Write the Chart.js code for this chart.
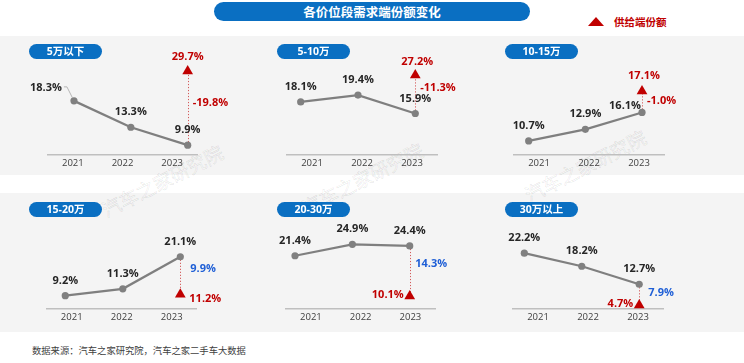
<!DOCTYPE html>
<html>
<head>
<meta charset="utf-8">
<script src="https://cdn.jsdelivr.net/npm/chart.js@4.4.1/dist/chart.umd.min.js"></script>
<style>
html,body{margin:0;padding:0;background:#fff;}
body{width:744px;height:363px;position:relative;overflow:hidden;font-family:"Open Sans","Noto Sans CJK SC",sans-serif;}
.bg{position:absolute;left:0;width:744px;background:#f4f4f4;z-index:0;}
.wm{position:absolute;z-index:1;white-space:nowrap;font:19px "Noto Sans CJK SC",sans-serif;color:rgba(0,0,0,0.02);-webkit-text-stroke:0.6px rgba(0,0,0,0.1);transform:translate(-50%,-50%) rotate(-27deg);}
canvas{position:absolute;z-index:2;}
.title{position:absolute;left:214px;top:2px;width:316px;height:19px;border-radius:10px;background:#0a6fc2;color:#fff;font:bold 12.5px "Noto Sans CJK SC",sans-serif;text-align:center;line-height:19px;z-index:3;}
.pill{position:absolute;width:73px;height:15px;border-radius:8px;background:#0a6fc2;color:#fff;font-weight:bold;font-size:10.5px;font-family:"Open Sans","Noto Sans CJK SC",sans-serif;text-align:center;line-height:15px;z-index:3;}
.legtri{position:absolute;left:588px;top:17px;width:0;height:0;border-left:8.5px solid transparent;border-right:8.5px solid transparent;border-bottom:9.5px solid #c00000;z-index:3;}
.legtxt{position:absolute;left:614px;top:14px;height:16px;line-height:16px;font:bold 10.5px "Noto Sans CJK SC",sans-serif;color:#c00000;z-index:3;}
.src{position:absolute;left:32px;top:343px;height:16px;line-height:16px;font:9.3px "Noto Sans CJK SC",sans-serif;color:#404040;z-index:3;}
</style>
</head>
<body>
<div class="bg" style="top:36px;height:139px;"></div>
<div class="bg" style="top:193px;height:139px;"></div>
<div class="wm" style="left:162px;top:180px;">汽车之家研究院</div>
<div class="wm" style="left:362px;top:178px;">汽车之家研究院</div>
<div class="wm" style="left:585px;top:165px;">汽车之家研究院</div>
<div class="title">各价位段需求端份额变化</div>
<div class="legtri"></div>
<div class="legtxt">供给端份额</div>
<div class="src">数据来源：汽车之家研究院，汽车之家二手车大数据</div>
<div id="root"></div>
<script>
// ---- data ----
const years = ['2021', '2022', '2023'];
const segments = ['5万以下', '5-10万', '10-15万', '15-20万', '20-30万', '30万以上'];
const demandBelow5 = [18.3, 13.3, 9.9];
const demand5to10 = [18.1, 19.4, 15.9];
const demand10to15 = [10.7, 12.9, 16.1];
const demand15to20 = [9.2, 11.3, 21.1];
const demand20to30 = [21.4, 24.9, 24.4];
const demandAbove30 = [22.2, 18.2, 12.7];
const supply2023 = [29.7, 27.2, 17.1, 11.2, 10.1, 4.7];
const gap2023 = [-19.8, -11.3, -1.0, 9.9, 14.3, 7.9];
const demandSeries = [demandBelow5, demand5to10, demand10to15, demand15to20, demand20to30, demandAbove30];

// ---- layout / style (positions only) ----
const DEF = {dx: 0, dy: -15};
const panels = [
  {left:0,   top:40,  w:248, h:131, padL:48,   padR:51,   x2:[-0.457,2.164], y:[8.03,29.85], y2:[-23.1,49.36], pill:[29,44],
   dem:[{dx:-28,dy:-13,leader:true},DEF,DEF], sup:{align:'center',dx:0,dy:-14.5}, gap:{dx:5,dy:-5}},
  {left:248, top:40,  w:248, h:131, padL:39,   padR:59,   x2:[-0.239,2.379], y:[8.03,29.85], y2:[-23.1,49.36], pill:[277,44],
   dem:[DEF,DEF,DEF], sup:{align:'center',dx:2,dy:-13}, gap:{dx:5,dy:-6}},
  {left:496, top:40,  w:248, h:131, padL:18,   padR:80,   x2:[-0.259,2.388], y:[8.03,29.85], y2:[-23.1,49.36], pill:[505,44],
   dem:[DEF,DEF,{dx:-17,dy:-7}], sup:{align:'center',dx:2,dy:-15}, gap:{dx:5,dy:-1}},
  {left:0,   top:200, w:248, h:125, padL:46.7, padR:51.3, x2:[-0.323,2.285], y:[5.14,38.43], y2:[2.40,68.1], pill:[29,202],
   dem:[DEF,DEF,DEF], sup:{align:'left',dx:9,dy:4}, gap:{dx:10,dy:-7}},
  {left:248, top:200, w:248, h:125, padL:38,   padR:60.7, x2:[-0.157,2.446], y:[5.14,38.43], y2:[2.40,68.1], pill:[277,202],
   dem:[DEF,DEF,DEF], sup:{align:'right',dx:-6,dy:-1.5}, gap:{dx:5.5,dy:-7.6}},
  {left:496, top:200, w:248, h:125, padL:17,   padR:81,   x2:[-0.197,2.414], y:[5.14,38.43], y2:[2.40,68.1], pill:[505,202],
   dem:[DEF,DEF,DEF], sup:{align:'right',dx:-6,dy:-1}, gap:{dx:9,dy:-1.6}}
];

const RED = '#c00000', BLUE = '#1f5fd6', TXT = '#262626';
const fmt = v => v.toFixed(1) + '%';

function makeLabelPlugin(p, i) {
  return {
    id: 'panelLabels' + i,
    beforeDatasetsDraw(chart) {
      const ctx = chart.ctx;
      const pt = chart.getDatasetMeta(0).data[2];
      const tri = chart.getDatasetMeta(1).data[0];
      ctx.save();
      ctx.strokeStyle = 'rgba(200,40,40,0.75)';
      ctx.lineWidth = 1;
      ctx.setLineDash([1.2, 1.8]);
      ctx.beginPath();
      ctx.moveTo(Math.round(pt.x) + 0.5, pt.y);
      ctx.lineTo(Math.round(pt.x) + 0.5, tri.y);
      ctx.stroke();
      ctx.restore();
    },
    afterDatasetsDraw(chart) {
      const ctx = chart.ctx;
      const pts = chart.getDatasetMeta(0).data;
      const tri = chart.getDatasetMeta(1).data[0];
      ctx.save();
      ctx.textBaseline = 'middle';
      ctx.font = 'bold 11px "Open Sans", "Noto Sans CJK SC", sans-serif';
      pts.forEach((el, k) => {
        const o = p.dem[k];
        const tx = el.x + o.dx, ty = el.y + o.dy;
        const text = fmt(demandSeries[i][k]);
        ctx.fillStyle = TXT;
        ctx.textAlign = 'center';
        ctx.fillText(text, tx, ty);
        if (o.leader) {
          const w = ctx.measureText(text).width;
          ctx.strokeStyle = '#a6a6a6';
          ctx.lineWidth = 0.8;
          ctx.beginPath();
          ctx.moveTo(tx + w / 2 + 2, ty - 1);
          ctx.lineTo(tx + w / 2 + 5, ty - 1);
          ctx.lineTo(el.x - 1.5, el.y - 3);
          ctx.stroke();
        }
      });
      ctx.fillStyle = RED;
      ctx.textAlign = p.sup.align;
      ctx.fillText(fmt(supply2023[i]), tri.x + p.sup.dx, tri.y + p.sup.dy);
      const g = gap2023[i];
      const pt = pts[2];
      ctx.fillStyle = g < 0 ? RED : BLUE;
      ctx.textAlign = 'left';
      ctx.fillText(fmt(g), pt.x + p.gap.dx, (pt.y + tri.y) / 2 + p.gap.dy);
      ctx.restore();
    }
  };
}

const root = document.getElementById('root');
panels.forEach((p, i) => {
  const pill = document.createElement('div');
  pill.className = 'pill';
  pill.style.left = p.pill[0] + 'px';
  pill.style.top = p.pill[1] + 'px';
  pill.textContent = segments[i];
  document.body.appendChild(pill);

  const cv = document.createElement('canvas');
  cv.width = p.w; cv.height = p.h;
  cv.style.left = p.left + 'px'; cv.style.top = p.top + 'px';
  cv.style.width = p.w + 'px'; cv.style.height = p.h + 'px';
  root.appendChild(cv);

  new Chart(cv, {
    type: 'line',
    data: {
      labels: years,
      datasets: [
        {
          data: demandSeries[i].map((v, k) => ({x: k, y: v})),
          xAxisID: 'x2', yAxisID: 'y',
          borderColor: '#7f7f7f', borderWidth: 2.25, tension: 0,
          pointRadius: 3.6, pointBackgroundColor: '#808080', pointBorderWidth: 0,
          clip: false
        },
        {
          data: [{x: years.length - 1, y: supply2023[i]}],
          xAxisID: 'x2', yAxisID: 'y2',
          showLine: false, pointStyle: 'triangle', pointRadius: 6.2,
          pointBackgroundColor: RED, pointBorderWidth: 0, borderColor: RED,
          clip: false
        }
      ]
    },
    options: {
      responsive: false, animation: false, devicePixelRatio: 1, events: [],
      layout: {autoPadding: false, padding: {left: p.padL, right: p.padR, top: 0, bottom: 0}},
      plugins: {legend: {display: false}, tooltip: {enabled: false}},
      scales: {
        x: {
          type: 'category', offset: true, position: 'bottom',
          grid: {display: false, drawTicks: false},
          border: {display: true, color: '#bfbfbf', width: 1.5},
          ticks: {padding: 2, color: '#404040', font: {family: '"Open Sans", sans-serif', size: 9.5, lineHeight: '12px'}}
        },
        x2: {type: 'linear', display: false, min: p.x2[0], max: p.x2[1]},
        y: {type: 'linear', display: false, min: p.y[0], max: p.y[1]},
        y2: {type: 'linear', display: false, min: p.y2[0], max: p.y2[1]}
      }
    },
    plugins: [makeLabelPlugin(p, i)]
  });
});
</script>
</body>
</html>
